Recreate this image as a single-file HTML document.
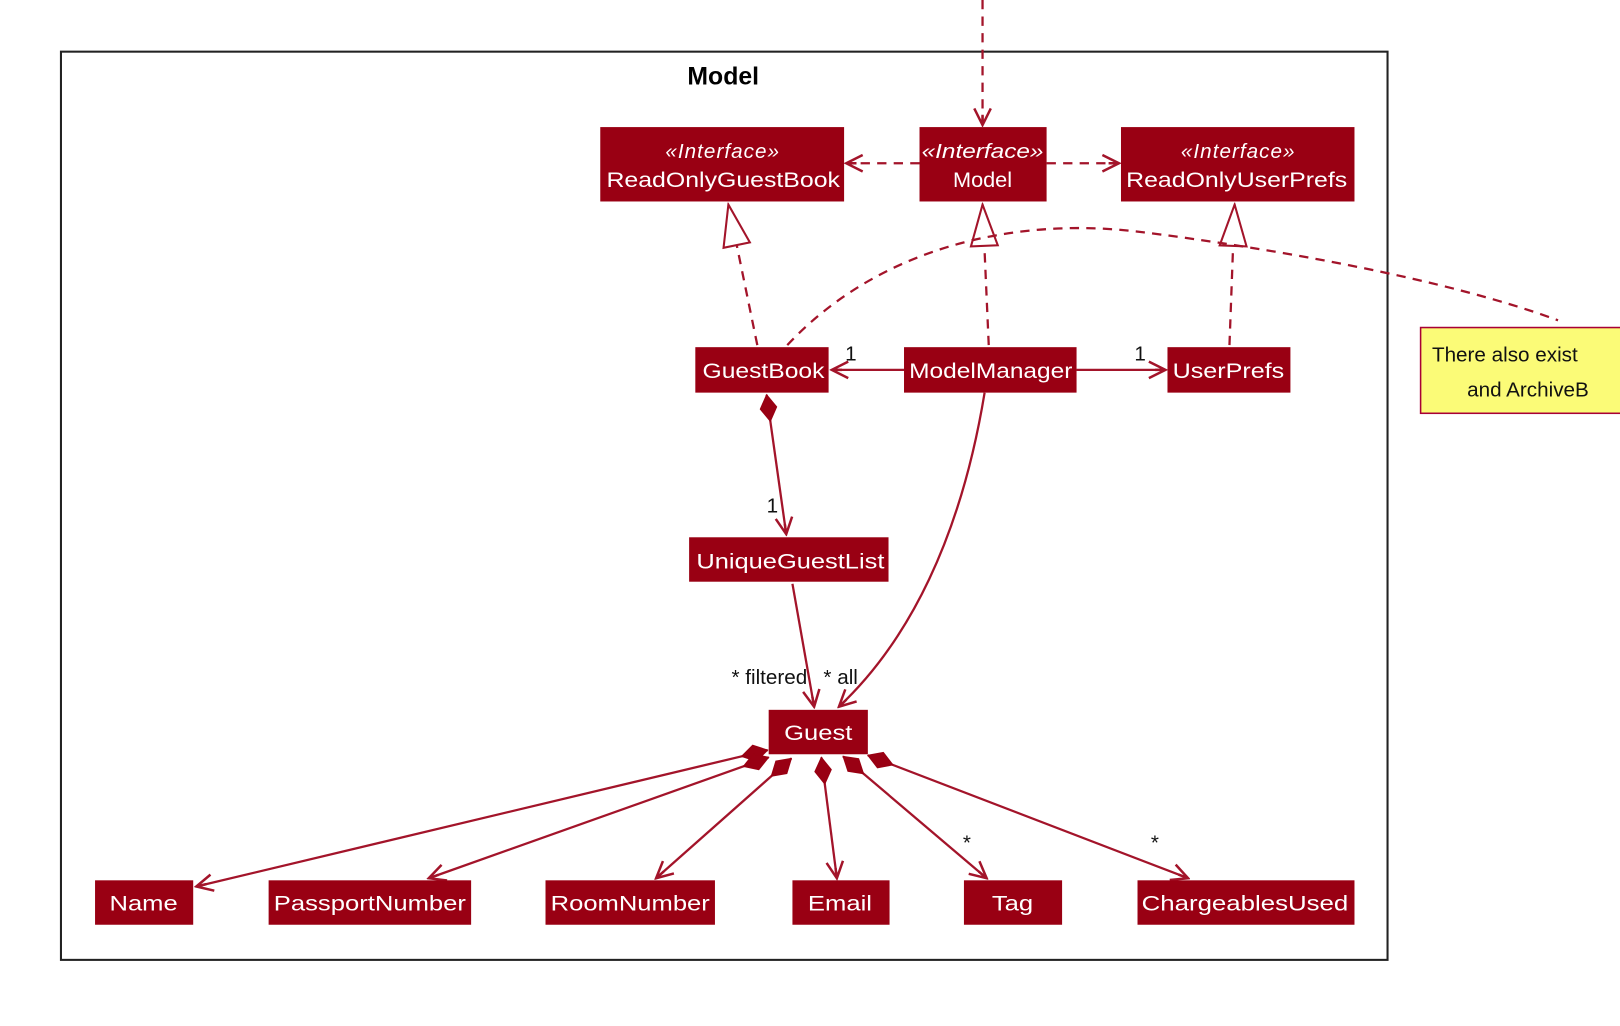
<!DOCTYPE html>
<html><head><meta charset="utf-8"><style>
html,body{margin:0;padding:0;background:#fff;}
svg{display:block;}
text{font-family:"Liberation Sans",sans-serif;}
.b{fill:#990013;}
.t{fill:#fff;font-size:21px;text-anchor:middle;}
.i{fill:#fff;font-size:20px;font-style:italic;text-anchor:middle;}
.l{stroke:#a3142a;stroke-width:2.2;fill:none;}
.d{stroke:#a3142a;stroke-width:2.2;fill:none;stroke-dasharray:9 7;}
.k{fill:#111;font-size:20px;}
</style></head><body>
<svg width="1620" height="1026" viewBox="0 0 1568 993" preserveAspectRatio="none" xmlns="http://www.w3.org/2000/svg">
<defs>
<marker id="a" viewBox="0 0 20 20" refX="18" refY="10" markerWidth="20" markerHeight="20" markerUnits="userSpaceOnUse" orient="auto"><path d="M2 2 L18 10 L2 18 M18 10 L8 10" fill="none" stroke="#a3142a" stroke-width="2.4"/></marker>
<marker id="tri" viewBox="0 0 44 30" refX="42" refY="15" markerWidth="44" markerHeight="30" markerUnits="userSpaceOnUse" orient="auto"><path d="M2 2 L42 15 L2 28 Z" fill="#fff" stroke="#a3142a" stroke-width="2"/></marker>
<marker id="dia" viewBox="0 0 28 18" refX="1" refY="9" markerWidth="28" markerHeight="18" markerUnits="userSpaceOnUse" orient="auto"><path d="M1 9 L14 1 L27 9 L14 17 Z" fill="#990013" stroke="#990013"/></marker>
</defs>
<rect x="59" y="50" width="1284" height="879" fill="none" stroke="#222" stroke-width="2"/>
<text x="700" y="82" font-size="24" font-weight="bold" text-anchor="middle" fill="#000">Model</text>

<line class="d" x1="951" y1="0" x2="951" y2="121" marker-end="url(#a)"/>
<line class="d" x1="890" y1="158" x2="819" y2="158" marker-end="url(#a)"/>
<line class="d" x1="1013" y1="158" x2="1083" y2="158" marker-end="url(#a)"/>
<line class="d" x1="733" y1="334" x2="705" y2="198" marker-end="url(#tri)"/>
<line class="d" x1="957" y1="334" x2="951" y2="198" marker-end="url(#tri)"/>
<line class="d" x1="1190" y1="334" x2="1195" y2="198" marker-end="url(#tri)"/>
<path class="d" d="M762 334 C 850 240, 980 210, 1100 224 C 1230 240, 1400 270, 1508 310"/>

<rect class="b" x="581" y="123" width="236" height="72"/>
<text class="i" x="699" y="153" textLength="110">«Interface»</text><text class="t" x="700" y="181" textLength="226" lengthAdjust="spacingAndGlyphs">ReadOnlyGuestBook</text>
<rect class="b" x="890" y="123" width="123" height="72"/>
<text class="i" x="951" y="153" textLength="118" lengthAdjust="spacingAndGlyphs">«Interface»</text><text class="t" x="951" y="181">Model</text>
<rect class="b" x="1085" y="123" width="226" height="72"/>
<text class="i" x="1198" y="153" textLength="110">«Interface»</text><text class="t" x="1197" y="181" textLength="214" lengthAdjust="spacingAndGlyphs">ReadOnlyUserPrefs</text>

<rect x="1375" y="317" width="200" height="83" fill="#fbfb77" stroke="#a80036" stroke-width="1.5"/>
<text class="k" x="1386" y="350" font-size="22">There also exist</text>
<text class="k" x="1420" y="384" font-size="22">and ArchiveB</text>

<line class="l" x1="875" y1="358" x2="805" y2="358" marker-end="url(#a)"/>
<line class="l" x1="1042" y1="358" x2="1128" y2="358" marker-end="url(#a)"/>
<text class="k" x="818" y="349">1</text><text class="k" x="1098" y="349">1</text>

<rect class="b" x="673" y="336" width="129" height="44"/><text class="t" x="739" y="366" textLength="118" lengthAdjust="spacingAndGlyphs">GuestBook</text>
<rect class="b" x="875" y="336" width="167" height="44"/><text class="t" x="959" y="366" textLength="158" lengthAdjust="spacingAndGlyphs">ModelManager</text>
<rect class="b" x="1130" y="336" width="119" height="44"/><text class="t" x="1189" y="366" textLength="108" lengthAdjust="spacingAndGlyphs">UserPrefs</text>

<line class="l" x1="742" y1="382" x2="761" y2="517" marker-start="url(#dia)" marker-end="url(#a)"/>
<text class="k" x="742" y="496">1</text>
<rect class="b" x="667" y="520" width="193" height="43"/><text class="t" x="765" y="550" textLength="182" lengthAdjust="spacingAndGlyphs">UniqueGuestList</text>

<line class="l" x1="767" y1="565" x2="788" y2="684" marker-end="url(#a)"/>
<path class="l" d="M953 380 C 930 520, 880 620, 812 684" marker-end="url(#a)"/>
<text class="k" x="708" y="662">* filtered</text><text class="k" x="797" y="662">* all</text>

<rect class="b" x="744" y="687" width="96" height="43"/><text class="t" x="792" y="716" textLength="66" lengthAdjust="spacingAndGlyphs">Guest</text>

<line class="l" x1="743" y1="726" x2="190" y2="858" marker-start="url(#dia)" marker-end="url(#a)"/>
<line class="l" x1="744" y1="733" x2="415" y2="850" marker-start="url(#dia)" marker-end="url(#a)"/>
<line class="l" x1="766" y1="734" x2="635" y2="850" marker-start="url(#dia)" marker-end="url(#a)"/>
<line class="l" x1="795" y1="733" x2="810" y2="850" marker-start="url(#dia)" marker-end="url(#a)"/>
<line class="l" x1="816" y1="732" x2="955" y2="850" marker-start="url(#dia)" marker-end="url(#a)"/>
<line class="l" x1="840" y1="731" x2="1150" y2="850" marker-start="url(#dia)" marker-end="url(#a)"/>
<text class="k" x="932" y="822">*</text><text class="k" x="1114" y="822">*</text>

<rect class="b" x="92" y="852" width="95" height="43"/><text class="t" x="139" y="881" textLength="66" lengthAdjust="spacingAndGlyphs">Name</text>
<rect class="b" x="260" y="852" width="196" height="43"/><text class="t" x="358" y="881" textLength="186" lengthAdjust="spacingAndGlyphs">PassportNumber</text>
<rect class="b" x="528" y="852" width="164" height="43"/><text class="t" x="610" y="881" textLength="154" lengthAdjust="spacingAndGlyphs">RoomNumber</text>
<rect class="b" x="767" y="852" width="94" height="43"/><text class="t" x="813" y="881" textLength="62" lengthAdjust="spacingAndGlyphs">Email</text>
<rect class="b" x="933" y="852" width="95" height="43"/><text class="t" x="980" y="881" textLength="40" lengthAdjust="spacingAndGlyphs">Tag</text>
<rect class="b" x="1101" y="852" width="210" height="43"/><text class="t" x="1205" y="881" textLength="200" lengthAdjust="spacingAndGlyphs">ChargeablesUsed</text>
</svg>
</body></html>
